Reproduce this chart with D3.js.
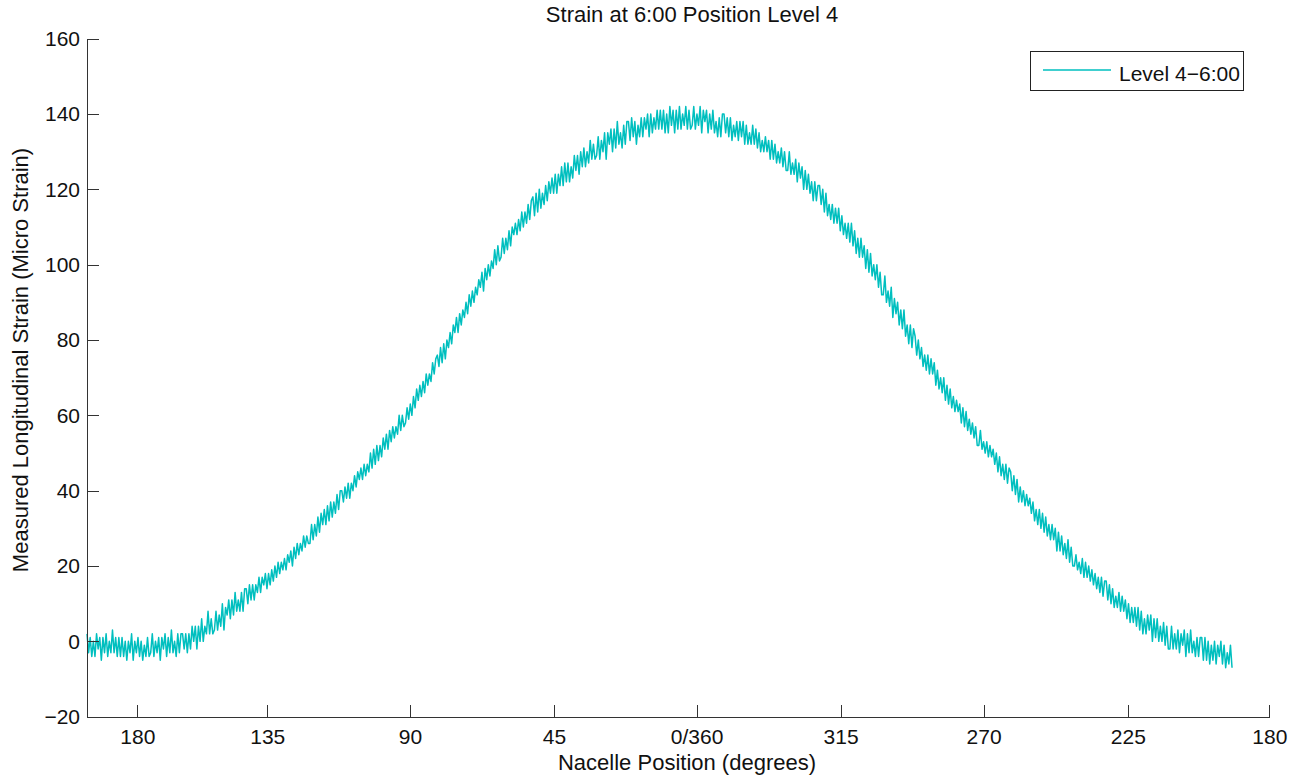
<!DOCTYPE html>
<html>
<head>
<meta charset="utf-8">
<title>Strain at 6:00 Position Level 4</title>
<script src="https://d3js.org/d3.v7.min.js"></script>
<style>
body { margin: 0; background: #fff; }
svg { font-family: "Liberation Sans", Arial, sans-serif; }
.axis path, .axis line { stroke: #333; stroke-width: 1; shape-rendering: crispEdges; }
.axis text { font-size: 21px; fill: #111; }
</style>
</head>
<body>
<script>
// x positions (sample units along the rotation) where each nacelle angle label sits
const xTickPos = [15.8, 56.6, 101.4, 146.6, 191.4, 236.6, 281.5, 326.8, 371.2];
const xTickLabels = ["180", "135", "90", "45", "0/360", "315", "270", "225", "180"];
const yTicks = [-20, 0, 20, 40, 60, 80, 100, 120, 140, 160];

// measured strain, one sample every 0.5 units
const sampleStep = 0.5;
const strain = [
  2,-3,1,-4,0,-4,2,-2,1,-5,1,-3,2,-4,0,-3,3,-3,1,-4,
  1,-4,1,-4,0,-5,0,-3,2,-5,0,-3,1,-4,0,-5,-1,-4,1,-4,
  -3,2,-4,0,-3,1,-5,1,-2,2,-4,1,-3,3,-3,0,-4,2,-3,2,
  2,-2,2,-3,2,-2,4,0,4,-2,4,0,6,0,4,2,8,2,6,2,
  3,8,3,7,4,10,3,9,7,11,6,11,7,13,8,11,8,13,8,14,
  14,10,15,11,15,11,15,13,17,13,17,15,18,14,18,15,19,16,20,17,
  21,18,21,19,22,19,23,21,24,20,25,22,26,23,26,24,28,25,28,26,
  26,31,27,31,28,33,29,34,31,35,31,36,32,37,33,37,34,39,35,40,
  40,37,41,38,42,38,42,40,44,41,45,43,46,43,47,44,47,45,50,46,
  51,47,52,48,52,49,54,51,55,51,56,53,57,54,57,55,60,56,60,57,
  58,62,59,63,60,65,62,67,64,68,65,69,66,71,68,71,69,74,71,75,
  76,73,78,74,79,75,80,78,82,79,84,82,86,82,87,84,88,86,90,87,
  92,89,93,90,94,92,96,94,98,93,99,96,100,97,101,99,104,100,105,101,
  102,107,103,107,104,109,105,110,108,111,108,112,109,114,110,114,111,116,112,117,
  118,113,119,114,120,115,119,116,121,117,122,119,123,119,124,119,124,121,126,121,
  127,122,127,122,126,123,129,125,129,124,130,126,131,126,130,127,133,128,132,128,
  129,134,128,133,130,135,128,135,132,136,130,136,131,138,132,135,131,137,132,138,
  138,133,139,134,138,132,137,134,139,134,139,136,140,134,140,135,139,136,141,136,
  141,136,141,135,140,135,142,137,141,135,141,136,142,136,140,137,142,136,141,136,
  137,142,136,140,137,142,135,141,138,141,135,140,136,141,135,138,134,139,134,140,
  140,135,139,134,139,133,137,134,138,133,138,134,138,132,137,132,135,132,137,132,
  136,131,135,130,133,130,134,130,133,128,133,128,132,127,130,127,131,126,130,125,
  125,130,124,127,124,128,122,127,123,126,120,125,120,124,119,122,117,122,117,121,
  121,116,120,114,119,113,116,112,116,111,115,111,115,109,113,108,111,107,111,106,
  111,105,109,103,107,102,107,102,105,99,104,98,103,97,100,96,100,94,98,92,
  92,97,90,93,89,94,86,91,87,90,84,88,83,88,81,84,79,84,78,83,
  81,76,80,75,78,73,76,72,76,71,75,71,74,68,72,67,70,66,70,64,
  68,63,67,62,65,61,64,61,63,58,62,57,61,56,59,55,58,54,57,52,
  52,56,51,53,50,53,49,52,49,51,47,50,45,49,44,47,43,47,42,46,
  45,40,44,39,43,37,41,37,40,36,39,36,38,34,37,32,35,31,35,30,
  34,29,33,28,31,27,31,27,30,24,29,24,28,23,26,22,27,21,25,20,
  20,23,19,21,18,22,17,21,17,20,16,19,15,18,14,17,13,17,12,16,
  16,11,15,10,14,9,12,9,13,8,12,8,11,6,10,5,9,5,9,4,
  9,3,8,2,6,2,7,3,7,0,6,1,6,0,4,0,5,-1,4,-2,
  -2,4,-2,2,-2,3,-3,2,-1,3,-4,2,-3,3,-3,0,-4,1,-4,1,
  1,-5,1,-5,0,-6,-1,-5,0,-6,-1,-4,0,-6,-1,-7,-3,-6,-1,-7
];
const seriesName = "Level 4\u22126:00";
const lineColor = "#00bfbf";

var W = 1299, H = 775;
var margin = {top: 38.7, right: 29.7, bottom: 58.3, left: 87};
var width = W - margin.left - margin.right,
    height = H - margin.top - margin.bottom;

var svg = d3.select("body").append("svg")
    .attr("width", W)
    .attr("height", H);

var g = svg.append("g")
    .attr("transform", "translate(" + margin.left + "," + margin.top + ")");

var x = d3.scaleLinear().domain([0, 371.2]).range([0, width]);
var y = d3.scaleLinear().domain([-20, 160]).range([height, 0]);

var data = strain.map(function(v, i) { return {x: i * sampleStep, y: v}; });

var valueline = d3.line()
    .x(function(d) { return x(d.x); })
    .y(function(d) { return y(d.y); });

g.append("path")
    .datum(data)
    .attr("fill", "none")
    .attr("stroke", lineColor)
    .attr("stroke-width", 1.5)
    .attr("stroke-linejoin", "round")
    .attr("d", valueline);

var xAxis = d3.axisBottom(x)
    .tickValues(xTickPos)
    .tickFormat(function(d, i) { return xTickLabels[i]; })
    .tickSizeInner(-12)
    .tickSizeOuter(0)
    .tickPadding(12);

var yAxis = d3.axisLeft(y)
    .tickValues(yTicks)
    .tickSizeInner(-12)
    .tickSizeOuter(0)
    .tickPadding(7);

g.append("g")
    .attr("class", "axis")
    .attr("transform", "translate(0," + height + ")")
    .call(xAxis);

g.append("g")
    .attr("class", "axis")
    .call(yAxis);

// title and axis labels
svg.append("text")
    .attr("x", 692).attr("y", 21.5)
    .attr("text-anchor", "middle")
    .style("font-size", "22px").style("fill", "#111")
    .text("Strain at 6:00 Position Level 4");

svg.append("text")
    .attr("x", 687).attr("y", 770)
    .attr("text-anchor", "middle")
    .style("font-size", "22px").style("fill", "#111")
    .text("Nacelle Position (degrees)");

svg.append("text")
    .attr("transform", "translate(28,360) rotate(-90)")
    .attr("text-anchor", "middle")
    .style("font-size", "22px").style("fill", "#111")
    .text("Measured Longitudinal Strain (Micro Strain)");

// legend
var legend = svg.append("g");
legend.append("rect")
    .attr("x", 1030.5).attr("y", 51.5)
    .attr("width", 213).attr("height", 39)
    .attr("fill", "#fff").attr("stroke", "#222").attr("stroke-width", 1);
legend.append("line")
    .attr("x1", 1043).attr("x2", 1111).attr("y1", 70).attr("y2", 70)
    .attr("stroke", lineColor).attr("stroke-width", 1.5);
legend.append("text")
    .attr("x", 1119).attr("y", 80.5)
    .style("font-size", "21px").style("fill", "#111")
    .text(seriesName);
</script>
</body>
</html>
